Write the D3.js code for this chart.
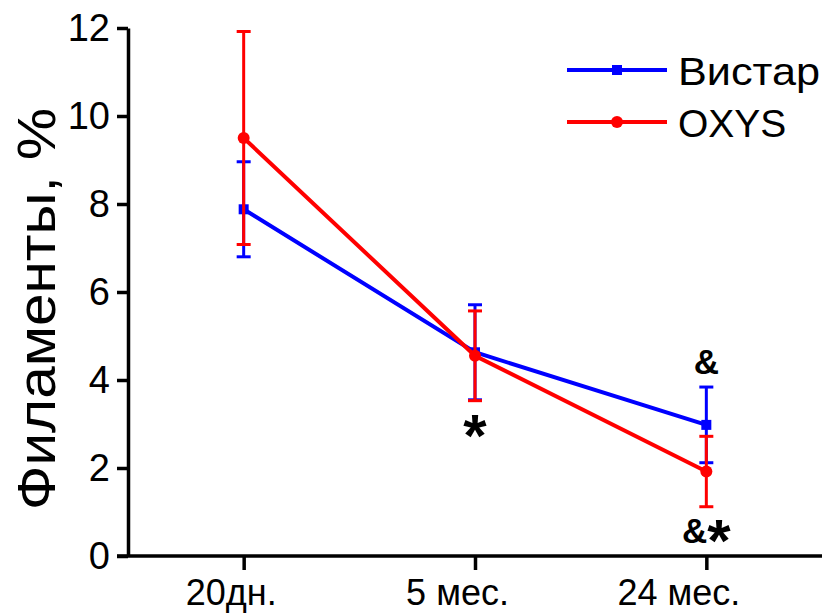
<!DOCTYPE html>
<html>
<head>
<meta charset="utf-8">
<script src="https://cdn.jsdelivr.net/npm/d3@7"></script>
<style>
	body { margin: 0; background: #fff; }
	text { font-family: Arial, "Liberation Sans", sans-serif; }
</style>
</head>
<body>
<svg id="chart"></svg>
<script>
const categories = ["20дн.", "5 мес.", "24 мес."];
const yTicks = [0, 2, 4, 6, 8, 10, 12];

const wistarMean = [7.88, 4.63, 2.98];
const wistarErr = [1.08, 1.08, 0.86];
const oxysMean = [9.5, 4.55, 1.92];
const oxysErr = [2.42, 1.02, 0.8];

// significance marks: [category, baseline value, ampersand part, star part]
const marks = [
	["5 мес.", 2.28, "", "*"],
	["24 мес.", 4.14, "&", ""],
	["24 мес.", 0.3, "&", "*"]
];

const width = 827, height = 613;
const margin = { top: 28, right: 5, bottom: 57, left: 128 };

const svg = d3.select("#chart").attr("width", width).attr("height", height);

const x = d3.scalePoint()
	.domain(categories)
	.range([margin.left, width - margin.right])
	.padding(0.5);

const y = d3.scaleLinear()
	.domain([0, 12])
	.range([height - margin.bottom, margin.top]);

// axes
const yAxis = svg.append("g")
	.attr("transform", `translate(${margin.left},0)`)
	.call(d3.axisLeft(y).tickValues(yTicks).tickSize(11).tickPadding(7).tickSizeOuter(0));
yAxis.select(".domain").attr("stroke-width", 3.5);
yAxis.selectAll(".tick line").attr("stroke-width", 3.5);
yAxis.selectAll(".tick text").style("font-size", "38px").attr("fill", "#000");

const xAxis = svg.append("g")
	.attr("transform", `translate(0,${height - margin.bottom})`)
	.call(d3.axisBottom(x).tickSize(14).tickPadding(9).tickSizeOuter(0));
xAxis.select(".domain").attr("stroke-width", 3.5).attr("d", `M${margin.left - 11},0H${width - margin.right}`);
xAxis.selectAll(".tick line").attr("stroke-width", 3.5);
// labels sit a little left of their ticks in the original
xAxis.selectAll(".tick text")
	.style("font-size", "36px")
	.attr("fill", "#000")
	.attr("dx", (d, i) => [-13, -18, -28][i]);

// y title
svg.append("text")
	.attr("transform", `translate(55,309) rotate(-90)`)
	.attr("text-anchor", "middle")
	.attr("textLength", 402)
	.attr("lengthAdjust", "spacingAndGlyphs")
	.style("font-size", "54px")
	.text("Филаменты, %");

const line = d3.line()
	.x((d, i) => x(categories[i]))
	.y((d) => y(d));

const series = [
	{ name: "Вистар", mean: wistarMean, err: wistarErr, color: "#0000ff", shape: "square" },
	{ name: "OXYS", mean: oxysMean, err: oxysErr, color: "#ff0000", shape: "circle" }
];

series.forEach((s) => {
	const g = svg.append("g");
	g.append("path")
		.datum(s.mean)
		.attr("fill", "none")
		.attr("stroke", s.color)
		.attr("stroke-width", 4)
		.attr("d", line);

	s.mean.forEach((m, i) => {
		const cx = x(categories[i]);
		const lo = y(m - s.err[i]), hi = y(m + s.err[i]);
		g.append("line").attr("x1", cx).attr("x2", cx).attr("y1", lo).attr("y2", hi)
			.attr("stroke", s.color).attr("stroke-width", 3);
		[lo, hi].forEach((yy) => {
			g.append("line").attr("x1", cx - 7).attr("x2", cx + 7).attr("y1", yy).attr("y2", yy)
				.attr("stroke", s.color).attr("stroke-width", 3);
		});
		if (s.shape === "square") {
			g.append("rect").attr("x", cx - 5).attr("y", y(m) - 5).attr("width", 10).attr("height", 10)
				.attr("fill", s.color);
		} else {
			g.append("circle").attr("cx", cx).attr("cy", y(m)).attr("r", 6).attr("fill", s.color);
		}
	});
});

// significance marks
const markText = svg.selectAll("text.mark")
	.data(marks)
	.join("text")
	.attr("class", "mark")
	.attr("x", (d) => x(d[0]))
	.attr("y", (d) => y(d[1]))
	.attr("text-anchor", "middle")
	.style("font-weight", "bold");
markText.append("tspan")
	.style("font-size", "35px")
	.text((d) => d[2]);
markText.append("tspan")
	.style("font-size", "60px")
	.attr("dy", (d) => (d[2] && d[3] ? 18 : 0))
	.text((d) => d[3]);

// legend
const legend = svg.append("g").attr("transform", "translate(567,70)");
series.forEach((s, i) => {
	const lg = legend.append("g").attr("transform", `translate(0,${i * 52})`);
	lg.append("line").attr("x1", 0).attr("x2", 100).attr("stroke", s.color).attr("stroke-width", 4);
	if (s.shape === "square") {
		lg.append("rect").attr("x", 45).attr("y", -5).attr("width", 10).attr("height", 10).attr("fill", s.color);
	} else {
		lg.append("circle").attr("cx", 50).attr("r", 6).attr("fill", s.color);
	}
	const t = lg.append("text").attr("x", 111).attr("y", 15).style("font-size", "39px").text(s.name);
	if (i === 0) t.attr("textLength", 142).attr("lengthAdjust", "spacingAndGlyphs");
});
</script>
</body>
</html>
